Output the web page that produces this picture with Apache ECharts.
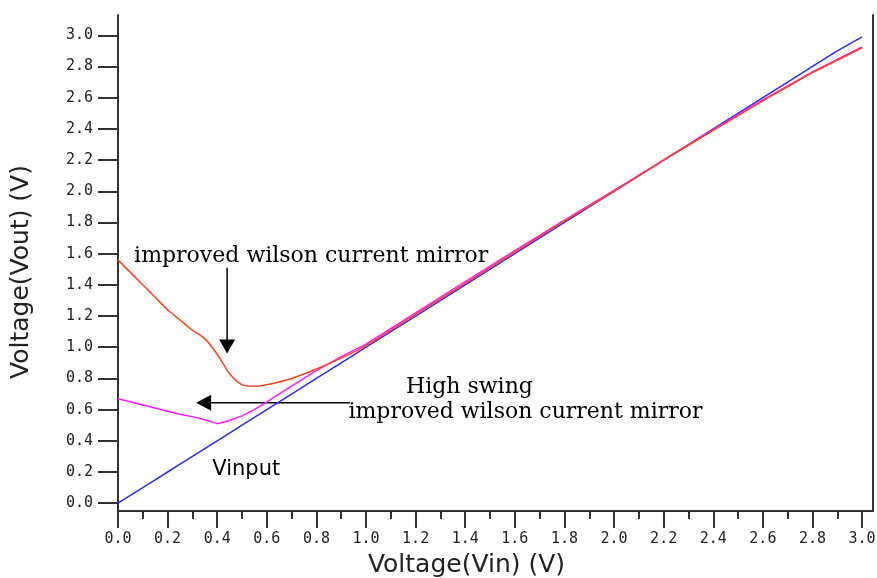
<!DOCTYPE html>
<html>
<head>
<meta charset="utf-8">
<script src="https://cdn.jsdelivr.net/npm/echarts@6/dist/echarts.min.js"></script>
<style>
html, body { margin: 0; padding: 0; background: #fff; }
#chart { width: 877px; height: 578px; }
</style>
</head>
<body>
<div id="chart"></div>
<script>
// input voltage sweep (V)
var vin = [0, 0.05, 0.1, 0.15, 0.2, 0.25, 0.3, 0.35, 0.4, 0.45, 0.5, 0.55, 0.6, 0.7, 0.8, 0.9, 1.0,
    1.2, 1.4, 1.6, 1.8, 2.0, 2.2, 2.4, 2.6, 2.7, 2.8, 2.9, 3.0];
var vinput = [0, 0.05, 0.1, 0.15, 0.2, 0.25, 0.3, 0.35, 0.4, 0.45, 0.5, 0.55, 0.6, 0.7, 0.8, 0.9, 1.0,
    1.2, 1.4, 1.6, 1.8, 2.0, 2.2, 2.4, 2.6, 2.7, 2.8, 2.9, 2.99];
var wilson = [1.56, 1.48, 1.40, 1.32, 1.24, 1.175, 1.11, 1.055, 0.955, 0.83, 0.76, 0.75, 0.76, 0.80, 0.86, 0.93, 1.01,
    1.21, 1.41, 1.61, 1.81, 2.00, 2.20, 2.39, 2.58, 2.67, 2.76, 2.84, 2.92];
var highSwing = [0.67, 0.65, 0.63, 0.61, 0.59, 0.57, 0.555, 0.535, 0.51, 0.53, 0.56, 0.60, 0.65, 0.75, 0.85, 0.94, 1.02,
    1.22, 1.42, 1.62, 1.815, 2.005, 2.20, 2.395, 2.585, 2.675, 2.765, 2.845, 2.925];

var yTicks = [0, 0.2, 0.4, 0.6, 0.8, 1.0, 1.2, 1.4, 1.6, 1.8, 2.0, 2.2, 2.4, 2.6, 2.8, 3.0];
var xTicks = [0, 0.2, 0.4, 0.6, 0.8, 1.0, 1.2, 1.4, 1.6, 1.8, 2.0, 2.2, 2.4, 2.6, 2.8, 3.0];
var xMinorTicks = [0.1, 0.3, 0.5, 0.7, 0.9, 1.1, 1.3, 1.5, 1.7, 1.9, 2.1, 2.3, 2.5, 2.7, 2.9];

function pairs(ys) {
    return vin.map(function (x, i) { return [x, ys[i]]; });
}

var axisColor = '#333';
var tickFont = '"DejaVu Sans Mono", monospace';
var nameFont = '"DejaVu Sans", sans-serif';

var myChart = echarts.init(document.getElementById('chart'));
var option = {
    animation: false,
    grid: { left: 118, right: 4, top: 15, bottom: 67, outerBoundsMode: 'none' },
    xAxis: [{
        type: 'value',
        min: 0,
        max: 3.044,
        name: 'Voltage(Vin) (V)',
        nameLocation: 'middle',
        nameGap: 42,
        nameTextStyle: { fontFamily: nameFont, fontSize: 25, color: '#222', padding: [0, 58, 0, 0] },
        axisLine: { show: true, onZero: false, lineStyle: { color: axisColor, width: 2 } },
        axisTick: { show: true, length: 17, customValues: xTicks, lineStyle: { color: axisColor, width: 2 } },
        axisLabel: {
            customValues: xTicks, margin: 21, fontFamily: tickFont, fontSize: 15, color: '#222',
            formatter: function (v) { return v.toFixed(1); }
        },
        splitLine: { show: false }
    }, {
        type: 'value',
        min: 0,
        max: 3.044,
        position: 'bottom',
        axisLine: { show: false, onZero: false },
        axisTick: { show: true, length: 8, customValues: xMinorTicks, lineStyle: { color: axisColor, width: 2 } },
        axisLabel: { show: false },
        splitLine: { show: false }
    }],
    yAxis: [{
        type: 'value',
        min: -0.05,
        max: 3.13,
        name: 'Voltage(Vout) (V)',
        nameLocation: 'middle',
        nameGap: 84,
        nameTextStyle: { fontFamily: nameFont, fontSize: 25, color: '#222', padding: [0, 18, 0, 0] },
        axisLine: { show: true, onZero: false, lineStyle: { color: axisColor, width: 2 } },
        axisTick: { show: true, length: 20, customValues: yTicks, lineStyle: { color: axisColor, width: 2 } },
        axisLabel: {
            customValues: yTicks, margin: 25, fontFamily: tickFont, fontSize: 15, color: '#222',
            formatter: function (v) { return v.toFixed(1); }
        },
        splitLine: { show: false }
    }, {
        type: 'value',
        min: -0.05,
        max: 3.13,
        position: 'right',
        axisLine: { show: true, onZero: false, lineStyle: { color: axisColor, width: 2 } },
        axisTick: { show: false },
        axisLabel: { show: false },
        splitLine: { show: false }
    }],
    series: [{
        name: 'Vinput',
        type: 'line',
        data: pairs(vinput),
        showSymbol: false,
        lineStyle: { color: '#2a2aff', width: 1.5 }
    }, {
        name: 'High swing improved wilson current mirror',
        type: 'line',
        data: pairs(highSwing),
        showSymbol: false,
        lineStyle: { color: '#ff1aff', width: 1.5 }
    }, {
        name: 'improved wilson current mirror',
        type: 'line',
        data: pairs(wilson),
        showSymbol: false,
        smooth: 0.25,
        lineStyle: { color: '#ff4422', width: 1.5 }
    }]
};
myChart.setOption(option);

// annotations, anchored in data coordinates
function px(x, y) {
    return myChart.convertToPixel({ xAxisIndex: 0, yAxisIndex: 0 }, [x, y]);
}
function label(text, x, y, font, align) {
    var p = px(x, y);
    return {
        type: 'text',
        style: {
            text: text, x: p[0], y: p[1], font: font, fill: '#000',
            align: align, verticalAlign: 'middle',
            textAlign: align, textVerticalAlign: 'middle'
        }
    };
}
var serif = '22px "DejaVu Serif", serif';
var a1 = px(0.44, 1.51), a1tip = px(0.44, 0.96);
var a2 = px(0.935, 0.644), a2tip = px(0.315, 0.644);
myChart.setOption({
    graphic: [
        label('improved wilson current mirror', 0.065, 1.585, serif, 'left'),
        label('High swing', 1.417, 0.74, serif, 'center'),
        label('improved wilson current mirror', 1.643, 0.58, serif, 'center'),
        label('Vinput', 0.517, 0.215, '21px "DejaVu Sans", sans-serif', 'center'),
        {
            type: 'line',
            shape: { x1: a1[0], y1: a1[1], x2: a1tip[0], y2: a1tip[1] - 10 },
            style: { stroke: '#000', lineWidth: 1.5 }
        }, {
            type: 'polygon',
            shape: { points: [[a1tip[0] - 8, a1tip[1] - 14], [a1tip[0] + 8, a1tip[1] - 14], [a1tip[0], a1tip[1]]] },
            style: { fill: '#000' }
        }, {
            type: 'line',
            shape: { x1: a2[0], y1: a2[1], x2: a2tip[0] + 10, y2: a2tip[1] },
            style: { stroke: '#000', lineWidth: 1.5 }
        }, {
            type: 'polygon',
            shape: { points: [[a2tip[0] + 15, a2tip[1] - 8], [a2tip[0] + 15, a2tip[1] + 8], [a2tip[0], a2tip[1]]] },
            style: { fill: '#000' }
        }
    ]
});
</script>
</body>
</html>
